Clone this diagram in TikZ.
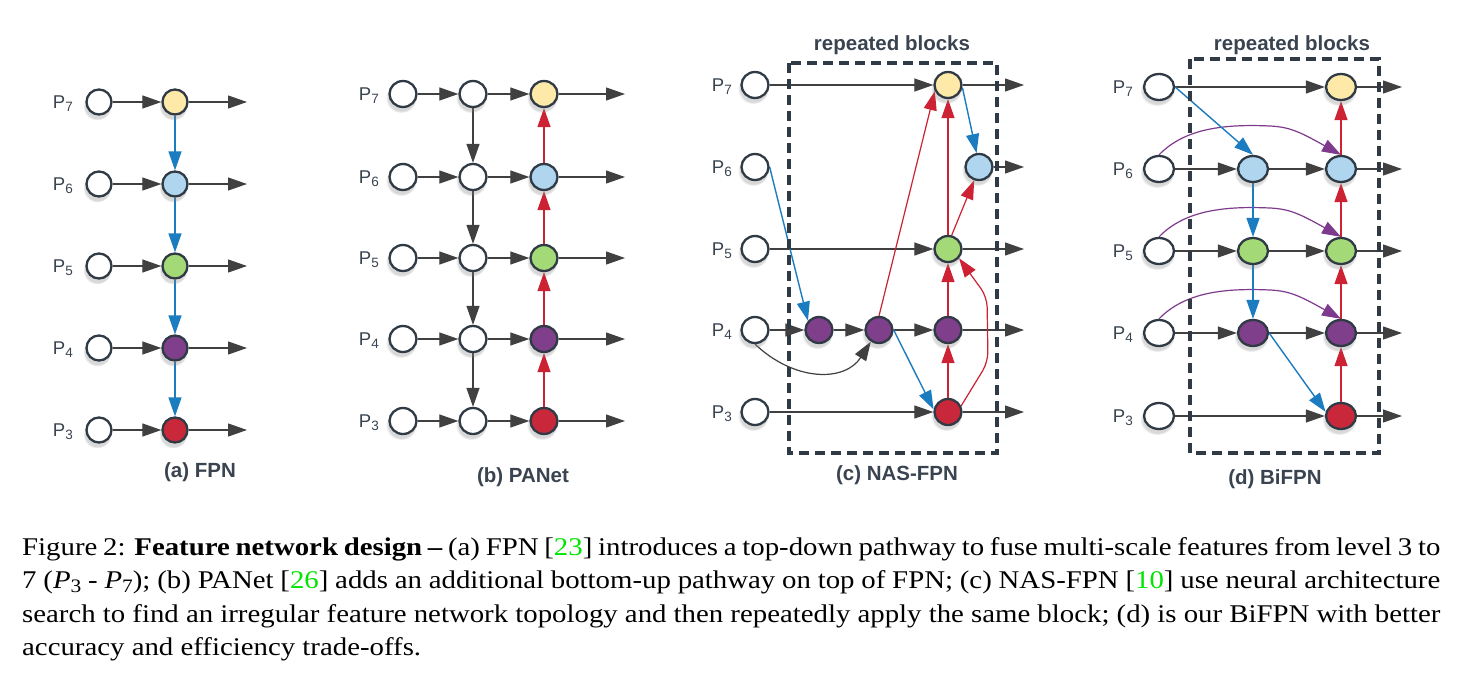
\documentclass[tikz,border=0pt]{standalone}
\usepackage{fontspec}
\setmainfont{Liberation Serif}
\setsansfont{Liberation Sans}
\usetikzlibrary{arrows.meta,shapes.geometric,shadows}
\definecolor{ol}{HTML}{2F3A44}
\definecolor{blk}{HTML}{404040}
\definecolor{bl}{HTML}{1C7CC0}
\definecolor{rd}{HTML}{CC2233}
\definecolor{pu}{HTML}{7E3A8C}
\definecolor{fy}{HTML}{FFE9A8}
\definecolor{fb}{HTML}{AFD5EF}
\definecolor{fg}{HTML}{A4D977}
\definecolor{fp}{HTML}{7F3F8A}
\definecolor{fr}{HTML}{C8283A}
\definecolor{tx}{HTML}{3A4450}
\definecolor{lk}{HTML}{00E600}
\pgfdeclarelayer{bg}\pgfdeclarelayer{mid}\pgfsetlayers{bg,mid,main}
\newcommand\plab[1]{P\raisebox{-0.35ex}{\fontsize{13.5}{13.5}\selectfont #1}}
\newcommand\csub[2]{\textit{#1}\raisebox{-0.35ex}{\fontsize{19}{19}\selectfont #2}}
\tikzset{
 fn/.style={circle, draw=ol, line width=2.3pt, minimum size=25pt, inner sep=0pt, fill=white,
   circular drop shadow={shadow xshift=-1.5pt, shadow yshift=-3.5pt, shadow scale=1.15, opacity=0.3}},
 fnb/.style={fn, ellipse, minimum width=27pt, minimum height=26pt},
 fnd/.style={fn, ellipse, minimum width=30pt, minimum height=26pt},
 plbl/.style={anchor=base east, text=tx, font=\sffamily\fontsize{18.5}{18.5}\selectfont, inner sep=0pt},
 ttl/.style={anchor=base, text=tx, font=\sffamily\bfseries\fontsize{20.5}{20.5}\selectfont, inner sep=0pt},
 ka/.style={draw=blk, line width=1.2pt, -{Triangle[length=19pt,width=13pt]}},
 ba/.style={ka, draw=bl, line width=1.4pt},
 ra/.style={ka, draw=rd},
 pa/.style={ka, draw=pu},
 blockbox/.style={draw=ol, line width=3.2pt, dash pattern=on 10pt off 6pt},
}
\begin{document}
\begin{tikzpicture}[x=1pt,y=-1pt]
\useasboundingbox (0,0) rectangle (1465,680);
\begin{pgfonlayer}{bg}
\fill[white] (0,0) rectangle (1465,680);
\end{pgfonlayer}

% ---------------- (a) FPN ----------------
\foreach \i/\y/\f in {7/102/fy,6/184/fb,5/266/fg,4/348/fp,3/430/fr} {
  \node[plbl] (a-l\i) at (73,\y+6) {\plab{\i}};
  \node[fn] (a-in\i) at (99,\y) {};
  \node[fn, fill=\f] (a-c\i) at (175,\y) {};
  \coordinate (a-o\i) at (247,\y);
}
\node[ttl] (a-t) at (200,477) {(a) FPN};
\begin{pgfonlayer}{bg}
\foreach \i in {7,6,5,4,3} {
  \draw[ka] (a-in\i) -- (a-c\i);
  \draw[ka] (a-c\i) -- (a-o\i);
}
\draw[ba] (a-c7) -- (a-c6);
\draw[ba] (a-c6) -- (a-c5);
\draw[ba] (a-c5) -- (a-c4);
\draw[ba] (a-c4) -- (a-c3);
\end{pgfonlayer}

% ---------------- (b) PANet ----------------
\foreach \i/\y/\f in {7/94/fy,6/177/fb,5/258/fg,4/339/fp,3/421/fr} {
  \node[plbl] (b-l\i) at (379,\y+6) {\plab{\i}};
  \node[fnb] (b-in\i) at (403,\y) {};
  \node[fnb] (b-m\i) at (473,\y) {};
  \node[fnb, fill=\f] (b-c\i) at (544,\y) {};
  \coordinate (b-o\i) at (625,\y);
}
\node[ttl] (b-t) at (523,482) {(b) PANet};
\begin{pgfonlayer}{bg}
\foreach \i in {7,6,5,4,3} {
  \draw[ka] (b-in\i) -- (b-m\i);
  \draw[ka] (b-m\i) -- (b-c\i);
  \draw[ka] (b-c\i) -- (b-o\i);
}
\draw[ka] (b-m7) -- (b-m6);
\draw[ka] (b-m6) -- (b-m5);
\draw[ka] (b-m5) -- (b-m4);
\draw[ka] (b-m4) -- (b-m3);
\draw[ra] (b-c3) -- (b-c4);
\draw[ra] (b-c4) -- (b-c5);
\draw[ra] (b-c5) -- (b-c6);
\draw[ra] (b-c6) -- (b-c7);
\end{pgfonlayer}

% ---------------- (c) NAS-FPN ----------------
\foreach \i/\y in {7/85,6/167,5/249,4/330,3/412} {
  \node[plbl] (c-l\i) at (732,\y+6) {\plab{\i}};
  \node[fnb] (c-in\i) at (755,\y) {};
  \coordinate (c-o\i) at (1024,\y);
}
\node[fnb, fill=fy] (c-Y) at (948,85) {};
\node[fnb, fill=fb] (c-B) at (979,167) {};
\node[fnb, fill=fg] (c-G) at (948,249) {};
\node[fnb, fill=fp] (c-U1) at (819,330) {};
\node[fnb, fill=fp] (c-U2) at (879,330) {};
\node[fnb, fill=fp] (c-U3) at (948,330) {};
\node[fnb, fill=fr] (c-R) at (948,412) {};
\node[ttl] (c-rb) at (892,50) {repeated blocks};
\node[ttl] (c-t) at (897,480) {(c) NAS-FPN};
\begin{pgfonlayer}{mid}
\draw[blockbox] (789,63) rectangle (997,453);
\end{pgfonlayer}
\begin{pgfonlayer}{bg}
\draw[ka] (c-in7) -- (c-Y);
\draw[ka] (c-Y) -- (c-o7);
\draw[ka] (c-B) -- (c-o6);
\draw[ka] (c-in5) -- (c-G);
\draw[ka] (c-G) -- (c-o5);
\draw[ka] (c-in4) -- (c-U1);
\draw[ka] (c-U1) -- (c-U2);
\draw[ka] (c-U2) -- (c-U3);
\draw[ka] (c-U3) -- (c-o4);
\draw[ka] (c-in3) -- (c-R);
\draw[ka] (c-R) -- (c-o3);
\draw[ka] (c-in4.south) .. controls (795,382) and (845,382) .. (c-U2.235);
\draw[ba] (c-Y.-10) -- (c-B.100);
\draw[ba] (c-in6.east) -- (c-U1.140);
\draw[ba] (c-U2.east) -- (c-R.170);
\draw[ra] (c-U2.north) -- (c-Y.205);
\draw[ra] (c-G) -- (c-Y);
\draw[ra] (c-G.75) -- (c-B.250);
\draw[ra] (c-U3) -- (c-G);
\draw[ra] (c-R) -- (c-U3);
\draw[ra, rounded corners=10pt] (c-R.25) -- (988,362) -- (987,297) -- (c-G.-40);
\end{pgfonlayer}

% ---------------- (d) BiFPN ----------------
\foreach \i/\y/\f in {7/87/fy,6/169/fb,5/251/fg,4/333/fp,3/416/fr} {
  \node[plbl] (d-l\i) at (1133,\y+6) {\plab{\i}};
  \node[fnd] (d-in\i) at (1159,\y) {};
  \node[fnd, fill=\f] (d-r\i) at (1341,\y) {};
  \coordinate (d-o\i) at (1402,\y);
}
\node[fnd, fill=fb] (d-m6) at (1253,169) {};
\node[fnd, fill=fg] (d-m5) at (1253,251) {};
\node[fnd, fill=fp] (d-m4) at (1253,333) {};
\node[ttl] (d-rb) at (1292,50) {repeated blocks};
\node[ttl] (d-t) at (1275,484) {(d) BiFPN};
\begin{pgfonlayer}{mid}
\draw[blockbox] (1190,59) rectangle (1379,453);
\end{pgfonlayer}
\begin{pgfonlayer}{bg}
\foreach \i in {7,6,5,4,3} {
  \draw[ka] (d-r\i) -- (d-o\i);
}
\draw[ka] (d-in7) -- (d-r7);
\draw[ka] (d-in3) -- (d-r3);
\foreach \i in {6,5,4} {
  \draw[ka] (d-in\i) -- (d-m\i);
  \draw[ka] (d-m\i) -- (d-r\i);
}
\foreach \i/\y in {6/169,5/251,4/333} {
  \draw[pa] (d-in\i.north) .. controls (1185,\y-41) and (1225,\y-45) .. (1270,\y-43)
     .. controls (1290,\y-42) and (1300,\y-37) .. (d-r\i.north);
}
\draw[ba] (d-in7.east) -- (d-m6.north);
\draw[ba] (d-m6) -- (d-m5);
\draw[ba] (d-m5) -- (d-m4);
\draw[ba] (d-m4.east) -- (d-r3.165);
\draw[ra] (d-r3) -- (d-r4);
\draw[ra] (d-r4) -- (d-r5);
\draw[ra] (d-r5) -- (d-r6);
\draw[ra] (d-r6) -- (d-r7);
\end{pgfonlayer}

% ---------------- caption ----------------
\node[anchor=base west, inner sep=0pt] (cap) at (22,555) {\scalebox{1.13}[1]{\parbox[t]{1255pt}{\fontsize{25.5}{33.5}\selectfont
\hyphenpenalty=10000 \exhyphenpenalty=10000 \tolerance=9999
Figure 2: \textbf{Feature network design –} (a) FPN [\textcolor{lk}{23}] introduces a top-down pathway to fuse multi-scale features from level 3 to\linebreak
7 (\csub{P}{3} - \csub{P}{7}); (b) PANet [\textcolor{lk}{26}] adds an additional bottom-up pathway on top of FPN; (c) NAS-FPN [\textcolor{lk}{10}] use neural architecture\linebreak
search to find an irregular feature network topology and then repeatedly apply the same block; (d) is our BiFPN with better\linebreak
accuracy and efficiency trade-offs.}}};
\end{tikzpicture}
\end{document}
